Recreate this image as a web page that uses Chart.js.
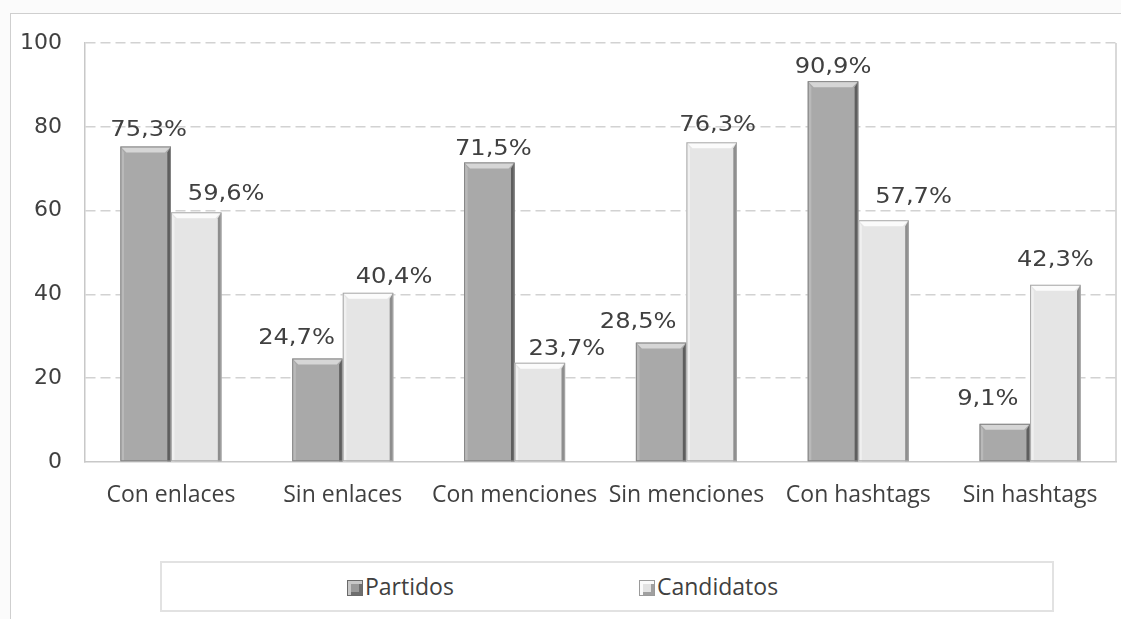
<!DOCTYPE html>
<html>
<head>
<meta charset="utf-8">
<script src="https://cdn.jsdelivr.net/npm/chart.js@4.4.1/dist/chart.umd.min.js"></script>
<style>
    html, body { margin: 0; padding: 0; background: #fbfbfb; }
    body { width: 1121px; height: 619px; position: relative; overflow: hidden; }
    #frame {
        position: absolute; left: 10px; top: 13px; width: 1130px; height: 640px;
        background: #fff; border: 1.5px solid #cfcfcf;
    }
    #wrap { position: absolute; left: 10px; top: 13px; width: 1111px; height: 530px; }
    #legend {
        position: absolute; left: 160px; top: 561px; width: 890px; height: 47px;
        border: 2px solid #e2e2e2; background: #fff;
        font-family: "Open Sans", sans-serif; font-size: 23px; color: #404040;
    }
    .item { position: absolute; top: 0; height: 47px; line-height: 47px; white-space: nowrap; }
    .mark {
        display: inline-block; width: 16px; height: 16px; vertical-align: -1px; margin-right: 2px;
        box-sizing: border-box;
    }
</style>
</head>
<body>
<div id="frame"></div>
<div id="wrap"><canvas id="chart"></canvas></div>
<div id="legend"></div>
<script>
const categories = ['Con enlaces', 'Sin enlaces', 'Con menciones', 'Sin menciones', 'Con hashtags', 'Sin hashtags'];
const partidos = [75.3, 24.7, 71.5, 28.5, 90.9, 9.1];
const candidatos = [59.6, 40.4, 23.7, 76.3, 57.7, 42.3];
const yTicks = [0, 20, 40, 60, 80, 100];

// label nudges [dx, height above bar top], the way they sit in the source chart
const labelNudge = [
    [[3, 16], [-21, 20], [4, 13], [-23, 20], [0, 14], [-17, 24]],
    [[30, 18], [26, 15], [27, 13], [6, 17], [30, 23], [0, 24]]
];

const bevel = [
    { face: '#a9a9a9', top: '#d6d6d6', left: '#b9b9b9', right: '#5e5e5e', line: '#858585' },
    { face: '#e5e5e5', top: '#fbfbfb', left: '#f0f0f0', right: '#8e8e8e', line: '#a8a8a8' }
];

const textColor = '#404040';

// fake Excel bevel on each bar + value labels + right plot edge
const bevelBars = {
    id: 'bevelBars',
    afterDatasetsDraw(chart) {
        const ctx = chart.ctx;
        chart.data.datasets.forEach((ds, di) => {
            const st = bevel[di];
            chart.getDatasetMeta(di).data.forEach(bar => {
                const l = bar.x - bar.width / 2, r = bar.x + bar.width / 2;
                const t = bar.y, b = bar.base;
                const e = Math.min(6, (b - t) / 2);
                ctx.save();
                // top
                ctx.beginPath();
                ctx.moveTo(l, t); ctx.lineTo(r, t); ctx.lineTo(r - e, t + e); ctx.lineTo(l + e, t + e);
                ctx.closePath();
                ctx.fillStyle = st.top; ctx.fill();
                // left
                ctx.beginPath();
                ctx.moveTo(l, t); ctx.lineTo(l + e * 0.6, t + e); ctx.lineTo(l + e * 0.6, b); ctx.lineTo(l, b);
                ctx.closePath();
                ctx.fillStyle = st.left; ctx.fill();
                // right
                ctx.beginPath();
                ctx.moveTo(r, t); ctx.lineTo(r - e * 0.6, t + e); ctx.lineTo(r - e * 0.6, b); ctx.lineTo(r, b);
                ctx.closePath();
                ctx.fillStyle = st.right; ctx.fill();
                // outline
                ctx.strokeStyle = st.line; ctx.lineWidth = 1;
                ctx.strokeRect(l + 0.5, t + 0.5, r - l - 1, b - t - 1);
                ctx.restore();
            });
        });
    },
    afterDraw(chart) {
        const ctx = chart.ctx;
        const a = chart.chartArea;
        ctx.save();
        ctx.strokeStyle = '#cccccc';
        ctx.lineWidth = 1.5;
        ctx.beginPath();
        ctx.moveTo(a.right, a.top); ctx.lineTo(a.right, a.bottom);
        ctx.stroke();

        ctx.fillStyle = textColor;
        ctx.font = '21px "DejaVu Sans"';
        ctx.textAlign = 'center';
        ctx.textBaseline = 'middle';
        chart.data.datasets.forEach((ds, di) => {
            chart.getDatasetMeta(di).data.forEach((bar, i) => {
                const txt = ds.data[i].toFixed(1).replace('.', ',') + '%';
                const n = labelNudge[di][i];
                ctx.save();
                ctx.translate(bar.x + n[0], bar.y - n[1]);
                ctx.scale(1.15, 1);
                ctx.fillText(txt, 0, 0);
                ctx.restore();
            });
        });
        ctx.restore();
    }
};

const chart = new Chart(document.getElementById('chart'), {
    type: 'bar',
    data: {
        labels: categories,
        datasets: [
            { label: 'Partidos', data: partidos, backgroundColor: bevel[0].face },
            { label: 'Candidatos', data: candidatos, backgroundColor: bevel[1].face }
        ]
    },
    options: {
        responsive: true,
        maintainAspectRatio: false,
        animation: false,
        categoryPercentage: 0.588,
        barPercentage: 1,
        layout: { padding: { top: 30, right: 5, bottom: 0, left: 0 } },
        plugins: {
            legend: { display: false },
            tooltip: { enabled: false }
        },
        scales: {
            x: {
                grid: { display: false },
                border: { display: true, color: '#c8c8c8', width: 1.5 },
                ticks: {
                    color: textColor,
                    font: { family: '"Open Sans"', size: 23 },
                    padding: 12,
                    maxRotation: 0,
                    autoSkip: false
                },
                afterFit(scale) { scale.height = 81; }
            },
            y: {
                min: 0,
                max: 100,
                afterBuildTicks(scale) { scale.ticks = yTicks.map(v => ({ value: v })); },
                grid: {
                    drawTicks: false,
                    color: ctx => ctx.tick && ctx.tick.value === 0 ? 'rgba(0,0,0,0)' : '#d2d2d2',
                    lineWidth: 1.5
                },
                // in v4 border.dash dashes the grid lines, the axis line stays solid
                border: { display: true, color: '#c8c8c8', width: 1.5, dash: [10, 5] },
                ticks: {
                    color: textColor,
                    font: { family: '"DejaVu Sans"', size: 22 },
                    padding: 23
                },
                afterFit(scale) {
                    scale.width = 75;
                    scale.paddingTop = 0;
                    scale.paddingBottom = 0;
                }
            }
        }
    },
    plugins: [bevelBars]
});

// legend below, in a box
const legendPos = [185, 477];
const markStyle = [
    'background:#9a9a9a;border:1px solid #6a6a6a;box-shadow: inset 3px 3px 0 #c8c8c8, inset -3px -3px 0 #6e6e6e;',
    'background:#e2e2e2;border:1px solid #9a9a9a;box-shadow: inset 3px 3px 0 #fafafa, inset -3px -3px 0 #a0a0a0;'
];
const legend = document.getElementById('legend');
chart.data.datasets.forEach((ds, i) => {
    const it = document.createElement('div');
    it.className = 'item';
    it.style.left = legendPos[i] + 'px';
    it.innerHTML = '<span class="mark" style="' + markStyle[i] + '"></span>' + ds.label;
    legend.appendChild(it);
});
</script>
</body>
</html>
